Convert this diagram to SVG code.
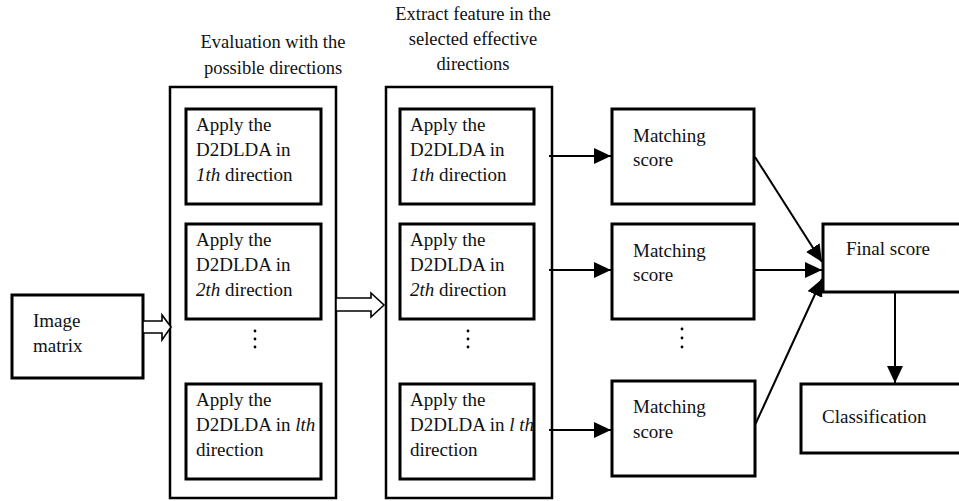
<svg xmlns="http://www.w3.org/2000/svg" width="959" height="501" viewBox="0 0 959 501" font-family="'Liberation Serif', 'DejaVu Serif', serif">
  <defs>
    <style>
      text { font-family: "Liberation Serif", "DejaVu Serif", serif; font-size: 19px; fill: #111; }
      .title { font-size: 18.5px; text-anchor: middle; }
      .it { font-style: italic; }
      .box { fill: #fff; stroke: #000; stroke-width: 3; }
      .outer { fill: #fff; stroke: #000; stroke-width: 2.5; }
      .link { fill: none; stroke: #000; stroke-width: 2; }
      .hollow { fill: #fff; stroke: #000; stroke-width: 1.6; stroke-linejoin: miter; }
      .dot { fill: #000; }
    </style>
    <marker id="headBig" viewBox="0 0 10 10" refX="10" refY="5" markerWidth="17" markerHeight="16" markerUnits="userSpaceOnUse" orient="auto" preserveAspectRatio="none">
      <path d="M0,0 L10,5 L0,10 Z" fill="#000"/>
    </marker>
  </defs>

  <!-- column headings -->
  <text class="title" x="273" y="48">Evaluation with the</text>
  <text class="title" x="273" y="74">possible directions</text>
  <text class="title" x="473" y="20">Extract feature in the</text>
  <text class="title" x="473" y="45">selected effective</text>
  <text class="title" x="473" y="70">directions</text>

  <!-- input -->
  <g id="image-matrix">
    <rect class="box" x="12" y="295" width="131" height="83"/>
    <text x="33" y="327">Image</text>
    <text x="33" y="352">matrix</text>
  </g>

  <!-- evaluation column -->
  <g id="evaluation">
    <rect class="outer" x="170" y="87" width="166" height="411"/>
    <g id="eval-1">
      <rect class="box" x="186" y="109" width="135" height="95"/>
      <text x="196" y="131">Apply the</text>
      <text x="196" y="156">D2DLDA in</text>
      <text x="196" y="181"><tspan class="it">1th</tspan> direction</text>
    </g>
    <g id="eval-2">
      <rect class="box" x="186" y="224" width="135" height="95"/>
      <text x="196" y="246">Apply the</text>
      <text x="196" y="271">D2DLDA in</text>
      <text x="196" y="296"><tspan class="it">2th</tspan> direction</text>
    </g>
    <g id="eval-dots">
      <circle class="dot" cx="255" cy="331" r="1.4"/>
      <circle class="dot" cx="255" cy="339" r="1.4"/>
      <circle class="dot" cx="255" cy="347" r="1.4"/>
    </g>
    <g id="eval-l">
      <rect class="box" x="186" y="384" width="135" height="95"/>
      <text x="196" y="406">Apply the</text>
      <text x="196" y="431">D2DLDA in <tspan class="it">lth</tspan></text>
      <text x="196" y="456">direction</text>
    </g>
  </g>

  <!-- extraction column -->
  <g id="extraction">
    <rect class="outer" x="386" y="87" width="166" height="411"/>
    <g id="extract-1">
      <rect class="box" x="400" y="109" width="134" height="95"/>
      <text x="410" y="131">Apply the</text>
      <text x="410" y="156">D2DLDA in</text>
      <text x="410" y="181"><tspan class="it">1th</tspan> direction</text>
    </g>
    <g id="extract-2">
      <rect class="box" x="400" y="224" width="134" height="95"/>
      <text x="410" y="246">Apply the</text>
      <text x="410" y="271">D2DLDA in</text>
      <text x="410" y="296"><tspan class="it">2th</tspan> direction</text>
    </g>
    <g id="extract-dots">
      <circle class="dot" cx="468" cy="331" r="1.4"/>
      <circle class="dot" cx="468" cy="339" r="1.4"/>
      <circle class="dot" cx="468" cy="347" r="1.4"/>
    </g>
    <g id="extract-l">
      <rect class="box" x="400" y="384" width="134" height="95"/>
      <text x="410" y="406">Apply the</text>
      <text x="410" y="431">D2DLDA in <tspan class="it">l th</tspan></text>
      <text x="410" y="456">direction</text>
    </g>
  </g>

  <!-- matching scores -->
  <g id="match-1">
    <rect class="box" x="612" y="109" width="142" height="95"/>
    <text x="633" y="142">Matching</text>
    <text x="633" y="166">score</text>
  </g>
  <g id="match-2">
    <rect class="box" x="612" y="224" width="142" height="95"/>
    <text x="633" y="257">Matching</text>
    <text x="633" y="281">score</text>
  </g>
  <g id="match-dots">
    <circle class="dot" cx="682" cy="329" r="1.4"/>
    <circle class="dot" cx="682" cy="338" r="1.4"/>
    <circle class="dot" cx="682" cy="347" r="1.4"/>
  </g>
  <g id="match-l">
    <rect class="box" x="612" y="381" width="143" height="95"/>
    <text x="633" y="413">Matching</text>
    <text x="633" y="438">score</text>
  </g>

  <!-- fusion and decision -->
  <g id="final-score">
    <rect class="box" x="823" y="224" width="140" height="68"/>
    <text x="846" y="255">Final score</text>
  </g>
  <g id="classification">
    <rect class="box" x="801" y="384" width="162" height="69"/>
    <text x="822" y="423">Classification</text>
  </g>

  <!-- connectors -->
  <g id="connectors">
    <polygon class="hollow" points="143,321 162,321 162,315 171,327 162,340 162,333 143,333"/>
    <polygon class="hollow" points="336,298 371,298 371,293 384,305 371,317 371,311 336,311"/>
    <line class="link" x1="549" y1="156" x2="611" y2="156" marker-end="url(#headBig)"/>
    <line class="link" x1="549" y1="270" x2="611" y2="270" marker-end="url(#headBig)"/>
    <line class="link" x1="549" y1="430" x2="611" y2="430" marker-end="url(#headBig)"/>
    <line class="link" x1="755" y1="157" x2="822" y2="262" marker-end="url(#headBig)"/>
    <line class="link" x1="755" y1="270" x2="822" y2="270" marker-end="url(#headBig)"/>
    <line class="link" x1="755" y1="425" x2="822" y2="279" marker-end="url(#headBig)"/>
    <line class="link" x1="895" y1="292" x2="895" y2="383" marker-end="url(#headBig)"/>
  </g>
</svg>
